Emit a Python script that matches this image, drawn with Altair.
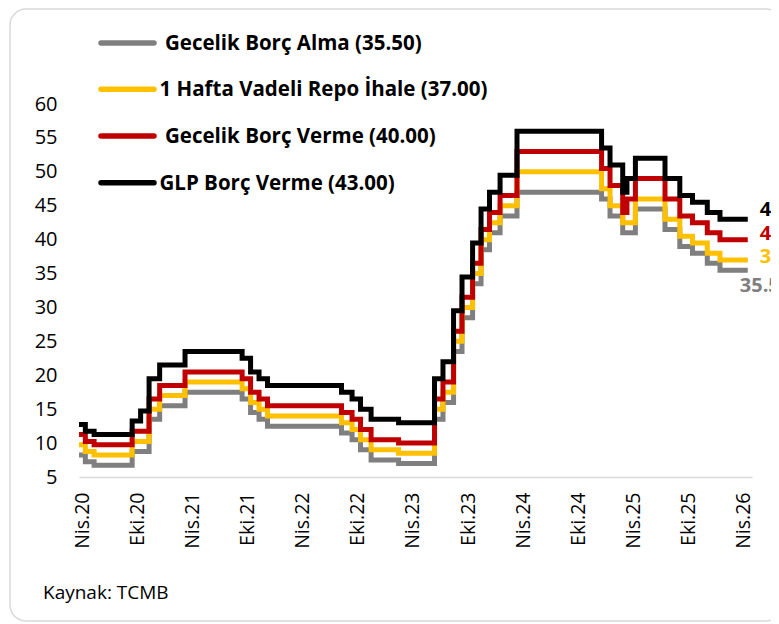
import altair as alt
import pandas as pd

# ---------------- data ----------------
change_dates = [
    "2020-04-01", "2020-04-22", "2020-05-21", "2020-09-24", "2020-10-22",
    "2020-11-19", "2020-12-24", "2021-03-18", "2021-09-23", "2021-10-21",
    "2021-11-18", "2021-12-16", "2022-08-18", "2022-09-22", "2022-10-20",
    "2022-11-24", "2023-02-23", "2023-06-22", "2023-07-20", "2023-08-24",
    "2023-09-21", "2023-10-26", "2023-11-23", "2023-12-21", "2024-01-25",
    "2024-03-21", "2024-12-26", "2025-01-23", "2025-03-06", "2025-03-20",
    "2025-04-17", "2025-07-24", "2025-09-11", "2025-10-23", "2025-12-11",
    "2026-01-22", "2026-04-24",
]
gecelik_borc_alma = [
    8.25, 7.25, 6.75, 8.75, 8.75, 13.5, 15.5, 17.5, 16.5, 14.5,
    13.5, 12.5, 11.5, 10.5, 9.0, 7.5, 7.0, 13.5, 16.0, 23.5,
    28.5, 33.5, 38.5, 41.0, 43.5, 47.0, 46.0, 43.5, 41.0, 41.0,
    44.5, 41.5, 39.0, 38.0, 36.5, 35.5, 35.5,
]
hafta_repo = [
    9.75, 8.75, 8.25, 10.25, 10.25, 15.0, 17.0, 19.0, 18.0, 16.0,
    15.0, 14.0, 13.0, 12.0, 10.5, 9.0, 8.5, 15.0, 17.5, 25.0,
    30.0, 35.0, 40.0, 42.5, 45.0, 50.0, 47.5, 45.0, 42.5, 42.5,
    46.0, 43.0, 40.5, 39.5, 38.0, 37.0, 37.0,
]
gecelik_borc_verme = [
    11.25, 10.25, 9.75, 11.75, 11.75, 16.5, 18.5, 20.5, 19.5, 17.5,
    16.5, 15.5, 14.5, 13.5, 12.0, 10.5, 10.0, 16.5, 19.0, 26.5,
    31.5, 36.5, 41.5, 44.0, 46.5, 53.0, 50.5, 48.0, 44.0, 46.0,
    49.0, 46.0, 43.5, 42.5, 41.0, 40.0, 40.0,
]
glp_borc_verme = [
    12.75, 11.75, 11.25, 13.25, 14.75, 19.5, 21.5, 23.5, 22.5, 20.5,
    19.5, 18.5, 17.5, 16.5, 15.0, 13.5, 13.0, 19.5, 22.0, 29.5,
    34.5, 39.5, 44.5, 47.0, 49.5, 56.0, 53.5, 51.0, 47.0, 49.0,
    52.0, 49.0, 46.5, 45.5, 44.0, 43.0, 43.0,
]

series_names = ["Gecelik Borç Alma", "1 Hafta Vadeli Repo İhale",
                "Gecelik Borç Verme", "GLP Borç Verme"]
series_values = [gecelik_borc_alma, hafta_repo, gecelik_borc_verme, glp_borc_verme]
legend_labels = ["Gecelik Borç Alma (35.50)", "1 Hafta Vadeli Repo İhale (37.00)",
                 "Gecelik Borç Verme (40.00)", "GLP Borç Verme (43.00)"]
end_labels = ["35.50", "37.00", "40.00", "43.00"]
colors = ["#7F7F7F", "#FFC000", "#C00000", "#000000"]

x_tick_dates = [(2020, 4), (2020, 10), (2021, 4), (2021, 10), (2022, 4), (2022, 10),
                (2023, 4), (2023, 10), (2024, 4), (2024, 10), (2025, 4), (2025, 10),
                (2026, 4)]
y_ticks = [5, 10, 15, 20, 25, 30, 35, 40, 45, 50, 55, 60]
source_text = "Kaynak: TCMB"

# ---------------- layout ----------------
FONT = "Open Sans"
PAD_L, PAD_T = 71, 96
W, H = 673, 373
TOTAL_W, TOTAL_H = 763, 614
OX, OY = 8 + PAD_L, 8 + PAD_T  # page position of plot origin


def px(page_x):
    return page_x - OX


def py(page_y):
    return page_y - OY


x_scale = alt.Scale(type="utc", domain=[
    alt.DateTime(year=2020, month=4, date=1, utc=True),
    alt.DateTime(year=2026, month=5, date=8, utc=True)])
y_scale = alt.Scale(domain=[5, 60], nice=False, zero=False)

x_axis = alt.Axis(
    values=[alt.DateTime(year=y, month=m, date=1, utc=True) for y, m in x_tick_dates],
    labelExpr="(utcmonth(datum.value) == 3 ? 'Nis.' : 'Eki.') + utcFormat(datum.value, '%y')",
    labelAngle=270, labelFont=FONT, labelFontSize=19.5, labelColor="#000000",
    labelPadding=15, ticks=False, tickSize=0, domainColor="#D9D9D9", domainWidth=1.5,
    grid=False, title=None, labelOverlap=False, labelFlush=False, labelOffset=3)
y_axis = alt.Axis(values=y_ticks, labelFont=FONT, labelFontSize=20, labelColor="#000000",
                  ticks=False, tickSize=0, domain=False, grid=False, title=None,
                  labelPadding=22, labelOverlap=False, labelFlush=False, labelBound=False)

layers = []

# frame
frame = alt.Chart(alt.Data(values=[{"k": 0}])).mark_rect(
    fillOpacity=0, stroke="#D9D9D9", strokeWidth=1.5, cornerRadius=16
).encode(x=alt.value(px(10)), x2=alt.value(px(782)),
         y=alt.value(py(9)), y2=alt.value(py(621)))
layers.append(frame)

# series lines
for name, vals, col in zip(series_names, series_values, colors):
    df = pd.DataFrame({"tarih": change_dates, "deger": vals, "seri": name})
    line = alt.Chart(df).mark_line(
        interpolate="step-after", strokeWidth=5, color=col,
        strokeCap="butt", strokeJoin="miter"
    ).encode(
        x=alt.X("tarih:T", scale=x_scale, axis=x_axis),
        y=alt.Y("deger:Q", scale=y_scale, axis=y_axis),
    )
    layers.append(line)

# end labels
end_offsets = [(-8, 15.5), (12, -2.5), (12, -6), (12, -9)]
for vals, lab, col, (dx, dy) in zip(series_values, end_labels, colors, end_offsets):
    df = pd.DataFrame({"tarih": [change_dates[-1]], "deger": [vals[-1]], "etiket": [lab]})
    txt = alt.Chart(df).mark_text(
        align="left", baseline="middle", dx=dx, dy=dy, font=FONT,
        fontSize=20, fontWeight="bold", color=col
    ).encode(x=alt.X("tarih:T", scale=x_scale, axis=x_axis),
             y=alt.Y("deger:Q", scale=y_scale, axis=y_axis),
             text="etiket:N")
    layers.append(txt)

# legend (drawn manually)
legend_y = [43, 89.3, 136, 182.7]
legend_tx = [165, 159.5, 165, 159.5]
for lab, col, ly, tx in zip(legend_labels, colors, legend_y, legend_tx):
    one = alt.Data(values=[{"k": 0}])
    rule = alt.Chart(one).mark_rule(strokeWidth=5.5, color=col, strokeCap="round").encode(
        x=alt.value(px(101)), x2=alt.value(px(154)), y=alt.value(py(ly)))
    txt = alt.Chart(one).mark_text(
        align="left", baseline="middle", font=FONT, fontSize=20.5, fontWeight="bold",
        color="#000000").encode(x=alt.value(px(tx)), y=alt.value(py(ly + 1)),
                                text=alt.value(lab))
    layers += [rule, txt]

# source
src = alt.Chart(alt.Data(values=[{"k": 0}])).mark_text(
    align="left", baseline="middle", font=FONT, fontSize=19, color="#000000"
).encode(x=alt.value(px(43)), y=alt.value(py(593)), text=alt.value(source_text))
layers.append(src)

chart = alt.layer(*layers).properties(
    width=W, height=H,
    autosize=alt.AutoSizeParams(type="none"),
    padding={"left": PAD_L, "top": PAD_T, "right": TOTAL_W - PAD_L - W,
             "bottom": TOTAL_H - PAD_T - H},
    background="#FFFFFF",
).configure_view(stroke=None)

chart.save("out.html", embed_options={"renderer": "svg", "actions": False})
